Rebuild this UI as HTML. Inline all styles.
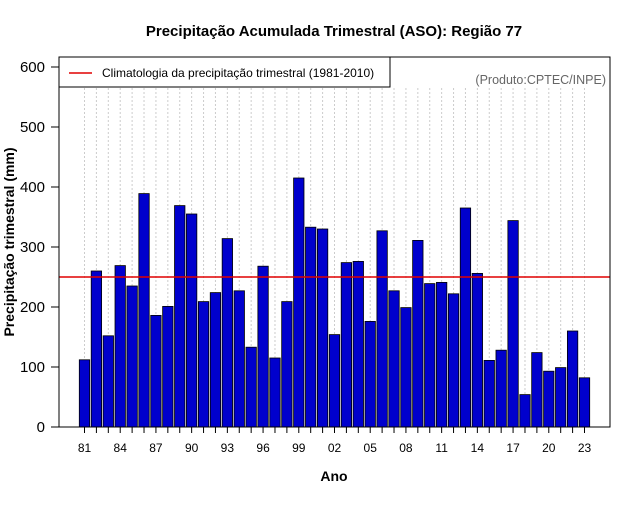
<!DOCTYPE html>
<html><head><meta charset="utf-8"><style>
body{margin:0;background:#fff}
svg text{font-family:"Liberation Sans",sans-serif}
</style></head><body>
<svg id="chart" width="640" height="500" xmlns="http://www.w3.org/2000/svg">
<text x="334" y="36" text-anchor="middle" font-size="15" font-weight="bold">Precipitação Acumulada Trimestral (ASO): Região 77</text>
<g id="grid"></g>
<g id="bars"></g>
<g id="axes"></g>
<rect x="59" y="57" width="551" height="370" fill="none" stroke="#000" stroke-width="1"/>
<g>
<rect x="59" y="57" width="331" height="30" fill="#fff" stroke="#000"/>
<line x1="69" y1="73" x2="92" y2="73" stroke="#e00000" stroke-width="1.5"/>
<text x="102" y="77" font-size="12">Climatologia da precipitação trimestral (1981-2010)</text>
</g>
<text x="606" y="84" text-anchor="end" font-size="12.5" fill="#666">(Produto:CPTEC/INPE)</text>
<text x="334" y="481" text-anchor="middle" font-size="14" font-weight="bold">Ano</text>
<text transform="translate(14,242) rotate(-90)" text-anchor="middle" font-size="14" font-weight="bold">Precipitação trimestral (mm)</text>
</svg>
<script>
const years=[];for(let y=1981;y<=2023;y++)years.push(y);
const values=[112,260,152,269,235,389,186,201,369,355,209,224,314,227,133,268,115,209,415,333,330,154,274,276,176,327,227,199,311,239,241,222,365,256,111,128,344,54,124,93,99,160,82];
const climatology=250;
const yTicks=[0,100,200,300,400,500,600];
const NS="http://www.w3.org/2000/svg";
const y0=427,yScale=0.6;
function yPos(v){return y0-v*yScale;}
function xPos(i){return 84.5+i*(500/42);}
function mk(t,a,p){const e=document.createElementNS(NS,t);for(const k in a)e.setAttribute(k,a[k]);p.appendChild(e);return e;}
const grid=document.getElementById('grid'),bars=document.getElementById('bars'),axes=document.getElementById('axes');
years.forEach((yr,i)=>{
 const x=xPos(i);
 const g=mk('line',{x1:x,x2:x,y1:88,y2:y0,stroke:'#ccc','stroke-dasharray':'2,2'},grid);
 
 
 const r=mk('rect',{x:x-5.2,y:yPos(values[i]),width:10.4,height:values[i]*yScale,fill:'#0000cd',stroke:'#000','stroke-width':0.8},bars);
 
 
 const t=mk('line',{x1:x,x2:x,y1:y0,y2:y0+6,stroke:'#000'},axes);
 
 
 if(i%3===0){
  const l=mk('text',{x:x,y:452,'text-anchor':'middle','font-size':12},axes);
  l.textContent=String(yr%100).padStart(2,'0');
  
  
 }
});
yTicks.forEach(v=>{
 const y=yPos(v);
 const t=mk('line',{x1:51,x2:59,y1:y,y2:y,stroke:'#000'},axes);
 
 
 const l=mk('text',{x:45,y:y+5,'text-anchor':'end','font-size':15},axes);
 l.textContent=v;
 
 
});
const cl=mk('line',{x1:59,x2:610,y1:yPos(climatology),y2:yPos(climatology),stroke:'#e00000','stroke-width':1.5},axes);


</script>
</body></html>
